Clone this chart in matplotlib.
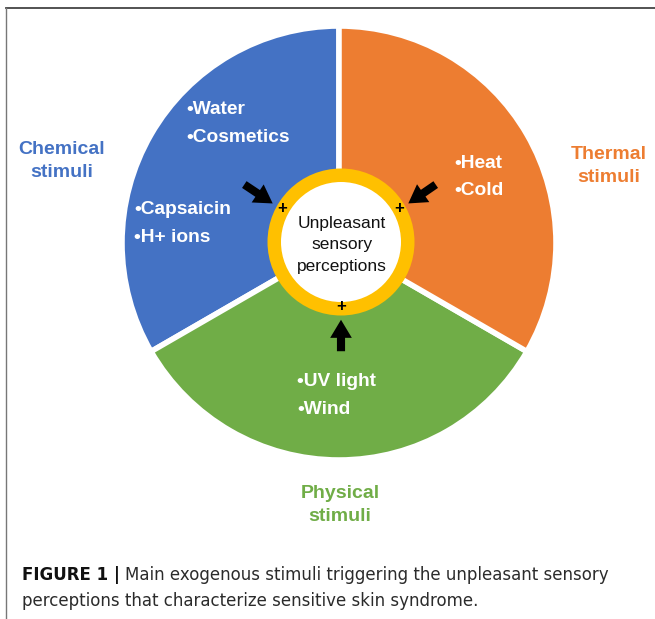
import matplotlib
matplotlib.use("Agg")
import matplotlib.pyplot as plt
from matplotlib.patches import Circle, FancyArrowPatch
from matplotlib.lines import Line2D

W, H = 655, 619

# sectors, counter-clockwise from 12 o'clock
sectors = ["Chemical", "Physical", "Thermal"]
shares = [1, 1, 1]
colors = ["#4472C4", "#70AD47", "#ED7D31"]
items = {
    "Chemical": [["Water", "Cosmetics"], ["Capsaicin", "H+ ions"]],
    "Physical": [["UV light", "Wind"]],
    "Thermal": [["Heat", "Cold"]],
}
center_label = "Unpleasant\nsensory\nperceptions"
caption_bold = "FIGURE 1 |"
caption_1 = "Main exogenous stimuli triggering the unpleasant sensory"
caption_2 = "perceptions that characterize sensitive skin syndrome."

plt.rcParams['font.family'] = ['Liberation Sans', 'DejaVu Sans']

fig = plt.figure(figsize=(W / 100, H / 100), dpi=100)
ax = fig.add_axes([0, 0, 1, 1])

def Y(y):
    # picture rows are counted from the top
    return H - y

cx, cy, R = 339, Y(243), 217
ax.pie(shares, colors=colors, startangle=90, counterclock=True,
       center=(cx, cy), radius=R,
       wedgeprops=dict(edgecolor="white", linewidth=4))
ax.set_xlim(0, W)
ax.set_ylim(0, H)
ax.set_aspect("auto")
ax.axis("off")

# ring round the centre
ax.add_patch(Circle((341, Y(242)), 73.5, facecolor="#FFC000", edgecolor="none", zorder=3))
ax.add_patch(Circle((341, Y(242)), 60, facecolor="white", edgecolor="none", zorder=4))
ax.text(342, Y(245), center_label, ha="center", va="center", fontsize=12.5,
        linespacing=1.55, color="#111111", zorder=5)

# arrows and plus signs
arrows = [((242, 183), (275, 205)), ((438, 183), (406, 205)), ((341, 354), (341, 317))]
for tail, tip in arrows:
    ax.add_patch(FancyArrowPatch((tail[0], Y(tail[1])), (tip[0], Y(tip[1])),
                                 arrowstyle="simple,head_width=1.2,head_length=1.0,tail_width=0.45",
                                 mutation_scale=13, color="black", lw=0, zorder=6))
for px, py in [(282, 209), (399, 209), (341, 307)]:
    ax.text(px, Y(py), "+", ha="center", va="center", fontsize=12, fontweight="bold",
            color="black", zorder=7)

# outer labels
outer = {"Chemical": (62, 161), "Thermal": (609, 166), "Physical": (340, 505)}
for name, col in zip(sectors, colors):
    x, y = outer[name]
    ax.text(x, Y(y), name + "\nstimuli", ha="center", va="center", fontsize=14,
            fontweight="bold", color=col, linespacing=1.45)

# bullet lists inside the wedges
spots = {"Chemical": [(186, 110), (134, 210)], "Thermal": [(454, 163)], "Physical": [(297, 382)]}
for name in sectors:
    for (x, y), group in zip(spots[name], items[name]):
        for k, word in enumerate(group):
            ax.text(x, Y(y + k * 27.5), "\u2022" + word, ha="left", va="center",
                    fontsize=13.8, fontweight="bold", color="white", zorder=5)

# frame lines
fig.add_artist(Line2D([6 / W, 1], [1 - 8 / H, 1 - 8 / H], color="#444444", lw=1.3))
fig.add_artist(Line2D([6 / W, 6 / W], [0, 1 - 8 / H], color="#777777", lw=1.0))

# caption
cap_font = ['DejaVu Sans']
t = ax.text(22, Y(575), caption_bold, ha="left", va="center", fontsize=12,
            fontweight="bold", color="#111111", family=cap_font)
fig.canvas.draw()
bb = t.get_window_extent()
x_end = ax.transData.inverted().transform((bb.x1, bb.y1))[0]
ax.text(x_end + 5, Y(575), caption_1, ha="left", va="center", fontsize=12,
        color="#2b2b2b", family=cap_font)
ax.text(22, Y(601), caption_2, ha="left", va="center", fontsize=12,
        color="#2b2b2b", family=cap_font)

fig.savefig("out.png", dpi=100)
